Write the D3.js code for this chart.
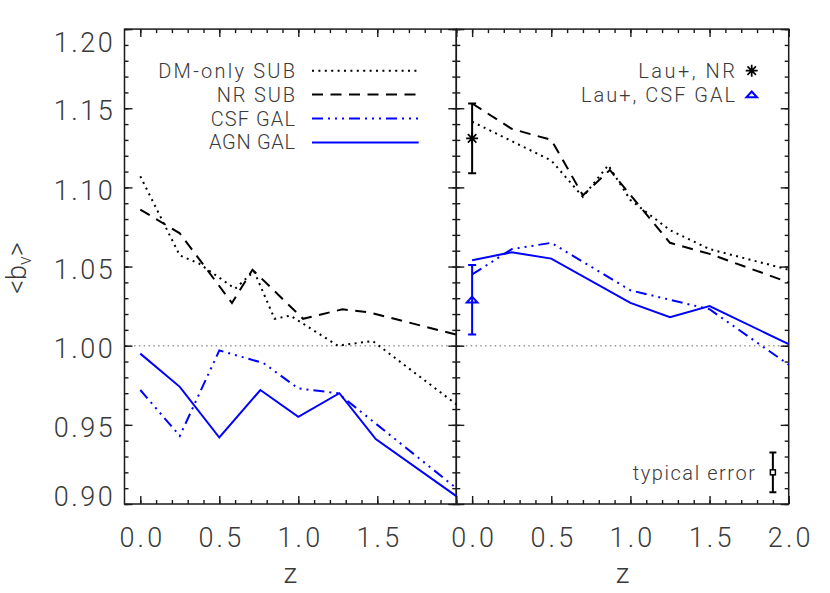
<!DOCTYPE html>
<html><head><meta charset="utf-8">
<script src="https://cdn.jsdelivr.net/npm/d3@7"></script>
<style>
body{margin:0;background:#fff}
text{font-family:Roboto,"Liberation Sans",sans-serif;font-weight:300}
</style>
</head><body><svg id="c" width="830" height="593"></svg>
<script>
// ---------- data ----------
const zDMLeft  = [0, 0.25, 0.37, 0.6, 0.72, 0.85, 0.95, 1.25, 1.47, 2.0];
const bDMLeft  = [1.107, 1.057, 1.052, 1.036, 1.047, 1.017, 1.019, 1.000, 1.003, 0.963];
const zNRLeft  = [0, 0.25, 0.58, 0.71, 1.03, 1.28, 1.45, 2.0];
const bNRLeft  = [1.086, 1.071, 1.027, 1.048, 1.017, 1.023, 1.021, 1.007];
const zCSFLeft = [0, 0.25, 0.5, 0.78, 1.0, 1.25, 1.5, 2.0];
const bCSFLeft = [0.972, 0.943, 0.997, 0.989, 0.973, 0.970, 0.950, 0.910];
const zAGNLeft = [0, 0.25, 0.5, 0.76, 1.0, 1.26, 1.49, 2.0];
const bAGNLeft = [0.995, 0.974, 0.942, 0.972, 0.955, 0.970, 0.941, 0.905];

const zDMRight  = [0, 0.5, 0.7, 0.86, 1.0, 1.25, 1.5, 2.0];
const bDMRight  = [1.1415, 1.117, 1.094, 1.114, 1.092, 1.073, 1.061, 1.048];
const zNRRight  = [0, 0.25, 0.5, 0.7, 0.87, 1.25, 1.5, 2.0];
const bNRRight  = [1.153, 1.137, 1.130, 1.095, 1.111, 1.065, 1.058, 1.040];
const zCSFRight = [0, 0.25, 0.5, 1.0, 1.25, 1.5, 2.0];
const bCSFRight = [1.045, 1.061, 1.065, 1.035, 1.029, 1.023, 0.988];
const zAGNRight = [0, 0.25, 0.5, 1.0, 1.25, 1.5, 2.0];
const bAGNRight = [1.054, 1.059, 1.055, 1.027, 1.018, 1.025, 1.001];

// Lau+ points (z, value, error)
const lauLabels = ["Lau+, NR", "Lau+, CSF GAL"];
const lauZ   = [0, 0];
const lauB   = [1.131, 1.029];
const lauErr = [0.022, 0.022];
const typicalLabel = "typical error";
const typicalZ = 1.9, typicalB = 0.920, typicalErr = 0.0126;

const legendLabels = ["DM-only SUB", "NR SUB", "CSF GAL", "AGN GAL"];
const yTickValues = [0.90, 0.95, 1.00, 1.05, 1.10, 1.15, 1.20];
const xTickLeft  = [0.0, 0.5, 1.0, 1.5];
const xTickRight = [0.0, 0.5, 1.0, 1.5, 2.0];
const xLabel = "z";

// ---------- layout ----------
const svg = d3.select("#c");
const plotTop = 29.1, plotBottom = 504;
const y = d3.scaleLinear().domain([0.90, 1.20]).range([plotBottom, plotTop]);
const xL = d3.scaleLinear().domain([-0.1, 2.0]).range([124.5, 456.3]);
const xR = d3.scaleLinear().domain([-0.1, 2.0]).range([456.3, 788.7]);

const BLUE = "#0000ff";
const styles = {
  dm:  {stroke:"#000", dash:"2,4.4", w:2},
  nr:  {stroke:"#000", dash:"11,7.5", w:2},
  csf: {stroke:BLUE, dash:"11,5,2,5,2,5,2,5", w:2},
  agn: {stroke:BLUE, dash:null, w:2}
};

const minorX = d3.range(0, 21).map(i => i / 10);
const majorX = [0, 0.5, 1.0, 1.5, 2.0];
const minorY = d3.range(90, 121).map(i => i / 100);
const axisColor = "#1a1a1a";
const labelColor = "#3a3a3a";

function drawFrame(x, showYLabels, xLabels) {
  const [x0, x1] = x.range();
  const g = svg.append("g");
  g.append("line").attr("x1", x0).attr("x2", x1).attr("y1", y(1)).attr("y2", y(1))
    .attr("stroke", "#999").attr("stroke-width", 1.4).attr("stroke-dasharray", "1.5,3.3");

  function addAxis(axisGen, transform, vals, size) {
    const a = g.append("g").attr("transform", transform)
      .call(axisGen.tickValues(vals).tickSizeInner(-size).tickSizeOuter(0).tickFormat(""));
    a.select(".domain").remove();
    a.selectAll("line").attr("stroke", axisColor).attr("stroke-width", 1.4);
    return a;
  }
  addAxis(d3.axisBottom(x), `translate(0,${plotBottom})`, minorX, 4);
  const bx = g.append("g").attr("transform", `translate(0,${plotBottom})`)
    .call(d3.axisBottom(x).tickValues(majorX).tickSizeInner(-8).tickSizeOuter(0).tickPadding(23.5)
      .tickFormat(d => xLabels.includes(d) ? d3.format(".1f")(d) : ""));
  bx.select(".domain").remove();
  bx.selectAll("line").attr("stroke", axisColor).attr("stroke-width", 1.4);
  bx.selectAll("text").attr("fill", labelColor).style("font-size", "27px")
    .filter(function(){ return this.textContent !== ""; })
    .attr("textLength", 42.7).attr("lengthAdjust", "spacing");
  addAxis(d3.axisTop(x), `translate(0,${plotTop})`, minorX, 4);
  addAxis(d3.axisTop(x), `translate(0,${plotTop})`, majorX, 8);
  addAxis(d3.axisLeft(y), `translate(${x0},0)`, minorY, 4);
  const ly = g.append("g").attr("transform", `translate(${x0},0)`)
    .call(d3.axisLeft(y).tickValues(yTickValues).tickSizeInner(-8).tickSizeOuter(0).tickPadding(11.8)
      .tickFormat(showYLabels ? d3.format(".2f") : ""));
  ly.select(".domain").remove();
  ly.selectAll("line").attr("stroke", axisColor).attr("stroke-width", 1.4);
  if (showYLabels) {
    ly.selectAll("text").attr("fill", labelColor).style("font-size", "27px")
      .attr("textLength", 59).attr("lengthAdjust", "spacing")
      .attr("dy", d => d === 1.20 ? "0.82em" : (d === 0.90 ? "0.05em" : "0.43em"));
  }
  addAxis(d3.axisRight(y), `translate(${x1},0)`, minorY, 4);
  addAxis(d3.axisRight(y), `translate(${x1},0)`, yTickValues, 8);
  g.append("rect").attr("x", x0).attr("y", plotTop).attr("width", x1 - x0).attr("height", plotBottom - plotTop)
    .attr("fill", "none").attr("stroke", axisColor).attr("stroke-width", 1.5);
  g.append("text").attr("x", (x0 + x1) / 2).attr("y", 583).attr("text-anchor", "middle")
    .attr("fill", labelColor).style("font-size", "28px").text(xLabel);
  return g;
}

function drawSeries(x, zs, bs, st) {
  const line = d3.line().x(d => x(d[0])).y(d => y(d[1]));
  svg.append("path").datum(d3.zip(zs, bs)).attr("d", line)
    .attr("fill", "none").attr("stroke", st.stroke).attr("stroke-width", st.w)
    .attr("stroke-dasharray", st.dash).attr("stroke-linejoin", "miter");
}

drawFrame(xL, true, xTickLeft);
drawFrame(xR, false, xTickRight);

drawSeries(xL, zDMLeft, bDMLeft, styles.dm);
drawSeries(xL, zNRLeft, bNRLeft, styles.nr);
drawSeries(xL, zCSFLeft, bCSFLeft, styles.csf);
drawSeries(xL, zAGNLeft, bAGNLeft, styles.agn);
drawSeries(xR, zDMRight, bDMRight, styles.dm);
drawSeries(xR, zNRRight, bNRRight, styles.nr);
drawSeries(xR, zCSFRight, bCSFRight, styles.csf);
drawSeries(xR, zAGNRight, bAGNRight, styles.agn);

// legend (left panel)
const legStyles = [styles.dm, styles.nr, styles.csf, styles.agn];
const legWidths = [136.7, 78.3, 84.3, 86];
legendLabels.forEach((lab, i) => {
  const yy = 70.7 + i * 23.9;
  svg.append("text").attr("x", 295).attr("y", yy + 7).attr("text-anchor", "end")
    .attr("fill", labelColor).style("font-size", "20px")
    .attr("textLength", legWidths[i]).attr("lengthAdjust", "spacing").text(lab);
  svg.append("line").attr("x1", 312).attr("x2", 418.7).attr("y1", yy).attr("y2", yy)
    .attr("stroke", legStyles[i].stroke).attr("stroke-width", legStyles[i].w)
    .attr("stroke-dasharray", legStyles[i].dash);
});

// symbols
function asterisk(g, cx, cy, r, color) {
  const p = d3.path();
  for (let k = 0; k < 4; k++) {
    const a = k * Math.PI / 4;
    p.moveTo(cx - r * Math.cos(a), cy - r * Math.sin(a));
    p.lineTo(cx + r * Math.cos(a), cy + r * Math.sin(a));
  }
  g.append("path").attr("d", p.toString()).attr("stroke", color).attr("stroke-width", 1.7).attr("fill", "none");
}
function triangle(g, cx, cy, r, color) {
  const p = d3.path();
  const h = r * 1.1;
  p.moveTo(cx, cy - h * 0.55); p.lineTo(cx + r, cy + h * 0.45); p.lineTo(cx - r, cy + h * 0.45); p.closePath();
  g.append("path").attr("d", p.toString()).attr("stroke", color).attr("stroke-width", 2).attr("fill", "none");
}
function errbar(g, cx, b, e, color, cap) {
  const p = d3.path();
  p.moveTo(cx, y(b + e)); p.lineTo(cx, y(b - e));
  p.moveTo(cx - cap, y(b + e)); p.lineTo(cx + cap, y(b + e));
  p.moveTo(cx - cap, y(b - e)); p.lineTo(cx + cap, y(b - e));
  g.append("path").attr("d", p.toString()).attr("stroke", color).attr("stroke-width", 2).attr("fill", "none");
}
const sym = svg.append("g");
const lauColors = ["#000", BLUE];
errbar(sym, xR(lauZ[0]), lauB[0], lauErr[0], lauColors[0], 4);
asterisk(sym, xR(lauZ[0]), y(lauB[0]), 6, lauColors[0]);
errbar(sym, xR(lauZ[1]), lauB[1], lauErr[1], lauColors[1], 4);
triangle(sym, xR(lauZ[1]), y(lauB[1]), 5.3, lauColors[1]);

const lauWidths = [96.7, 154];
lauLabels.forEach((lab, i) => {
  const yy = 70.7 + i * 24;
  svg.append("text").attr("x", 735).attr("y", yy + 7).attr("text-anchor", "end")
    .attr("fill", labelColor).style("font-size", "20px")
    .attr("textLength", lauWidths[i]).attr("lengthAdjust", "spacing").text(lab);
  if (i === 0) asterisk(sym, 751.7, yy, 6, lauColors[0]);
  else triangle(sym, 751.7, yy, 5.3, lauColors[1]);
});

// typical error
errbar(sym, xR(typicalZ), typicalB, typicalErr, "#000", 3.5);
sym.append("rect").attr("x", xR(typicalZ) - 2.5).attr("y", y(typicalB) - 2.5)
  .attr("width", 5).attr("height", 5).attr("fill", "#fff").attr("stroke", "#000").attr("stroke-width", 1.5);
svg.append("text").attr("x", 755).attr("y", 480).attr("text-anchor", "end")
  .attr("fill", labelColor).style("font-size", "20px")
  .attr("textLength", 122.3).attr("lengthAdjust", "spacing").text(typicalLabel);

// y title
const yt = svg.append("text").attr("transform", "translate(26,268) rotate(-90)")
  .attr("text-anchor", "middle").attr("fill", labelColor).style("font-size", "27px");
yt.append("tspan").text("<b");
yt.append("tspan").attr("baseline-shift", "-30%").style("font-size", "18px").text("v");
yt.append("tspan").text(">");
</script>
</body></html>
